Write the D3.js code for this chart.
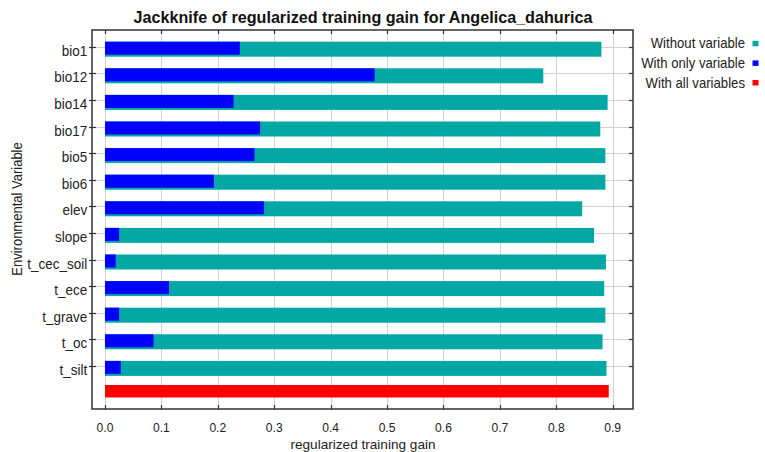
<!DOCTYPE html>
<html><head><meta charset="utf-8">
<script src="https://cdn.jsdelivr.net/npm/d3@7"></script>
<style>body{margin:0;background:#fff}svg{display:block}text{font-family:Arial,"Liberation Sans",sans-serif}</style>
</head><body>
<script>
const variables = ["bio1","bio12","bio14","bio17","bio5","bio6","elev","slope","t_cec_soil","t_ece","t_grave","t_oc","t_silt"];
const withoutVariable = [0.880,0.777,0.891,0.878,0.887,0.887,0.846,0.867,0.888,0.885,0.887,0.882,0.889];
const withOnlyVariable = [0.239,0.478,0.228,0.275,0.265,0.193,0.282,0.025,0.019,0.1135,0.025,0.086,0.028];
const withAllVariables = 0.893;
const xTicks = [0.0,0.1,0.2,0.3,0.4,0.5,0.6,0.7,0.8,0.9];
const legendLabels = ["Without variable","With only variable","With all variables"];
const colors = {without:"#03a7a3", only:"#0000ff", all:"#ff0000"};

const W=765,H=452;
const svg=d3.select("body").append("svg").attr("width",W).attr("height",H);
const L=92,R=633,T=30,B=409;
const x=d3.scaleLinear().domain([-0.023,0.936]).range([L,R]);
const rows=variables.concat(["__all"]);
const y=d3.scalePoint().domain(rows).range([46.7,46.7+13*26.6]);

function txt(parent,px,py,str,size,sx,anchor,extra){
  return parent.append("text")
    .attr("transform",`translate(${px},${py})${extra||""} scale(${sx},1)`)
    .attr("text-anchor",anchor).attr("font-size",size).attr("fill","#222").text(str);
}

// gridlines
const grid=svg.append("g").attr("stroke","#d6d0d0").attr("stroke-width",1);
grid.selectAll("line.v").data(xTicks).join("line").attr("class","v")
 .attr("x1",d=>Math.round(x(d))+0.5).attr("x2",d=>Math.round(x(d))+0.5).attr("y1",T).attr("y2",B);
grid.selectAll("line.h").data(variables).join("line").attr("class","h")
 .attr("x1",L).attr("x2",R).attr("y1",d=>Math.round(y(d))+0.5).attr("y2",d=>Math.round(y(d))+0.5);

// bars
const g=svg.append("g");
g.selectAll("rect.wo").data(variables).join("rect").attr("class","wo")
 .attr("x",x(0)).attr("y",d=>y(d)-5).attr("height",15)
 .attr("width",(d,i)=>x(withoutVariable[i])-x(0)).attr("fill",colors.without);
g.selectAll("rect.on").data(variables).join("rect").attr("class","on")
 .attr("x",x(0)).attr("y",d=>y(d)-5).attr("height",13)
 .attr("width",(d,i)=>x(withOnlyVariable[i])-x(0)).attr("fill",colors.only);
g.append("rect").attr("x",x(0)).attr("y",y("__all")-7.5).attr("height",12.5)
 .attr("width",x(withAllVariables)-x(0)).attr("fill",colors.all);

// frame
svg.append("rect").attr("x",L).attr("y",T).attr("width",R-L).attr("height",B-T)
 .attr("fill","none").attr("stroke","#333").attr("stroke-width",1.5);

// ticks
const tk=svg.append("g").attr("stroke","#333").attr("stroke-width",1.2);
xTicks.forEach(v=>{
  const xx=Math.round(x(v))+0.5;
  tk.append("line").attr("x1",xx).attr("x2",xx).attr("y1",B-4).attr("y2",B+1);
  tk.append("line").attr("x1",xx).attr("x2",xx).attr("y1",T).attr("y2",T+4);
});
variables.forEach(v=>{
  const yy=Math.round(y(v))+0.5;
  tk.append("line").attr("x1",L-3).attr("x2",L+4).attr("y1",yy).attr("y2",yy);
  tk.append("line").attr("x1",R-4).attr("x2",R).attr("y1",yy).attr("y2",yy);
});

// x tick labels
const xl=svg.append("g");
xTicks.forEach(v=>txt(xl,x(v),432,d3.format(".1f")(v),13,0.93,"middle"));
// y tick labels
const yl=svg.append("g");
variables.forEach(v=>txt(yl,87.3,y(v)+9,v,15,0.9,"end"));

// titles
svg.append("text").attr("transform","translate(363,23) scale(0.95,1)").attr("text-anchor","middle")
 .attr("font-size",17).attr("font-weight","bold").attr("fill","#111")
 .text("Jackknife of regularized training gain for Angelica_dahurica");
txt(svg,363,448.5,"regularized training gain",13.6,1,"middle");
txt(svg,22,209,"Environmental Variable",14,0.93,"middle"," rotate(-90)");

// legend
const lc=[colors.without,colors.only,colors.all];
legendLabels.forEach((t,i)=>{
  const yy=44+i*19.6;
  txt(svg,745,yy+4.4,t,14,0.94,"end");
  svg.append("rect").attr("x",752.5).attr("y",yy-3.2).attr("width",6).attr("height",5.5).attr("fill",lc[i]);
});
</script>
</body></html>
